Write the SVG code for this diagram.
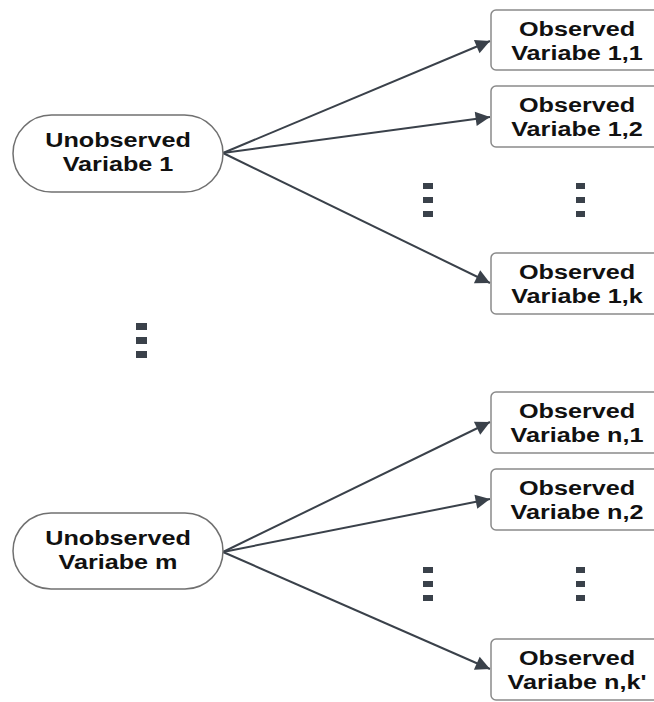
<svg xmlns="http://www.w3.org/2000/svg" width="654" height="702" viewBox="0 0 654 702">
<style>
.pill{fill:#fff;stroke:#707070;stroke-width:1.5}
.box{fill:#fff;stroke:#8a8a8a;stroke-width:1.5}
.t{font-family:"Liberation Sans",Arial,sans-serif;font-weight:bold;font-size:21px;fill:#111;text-anchor:middle}
.e{stroke:#3a414a;stroke-width:2;fill:none;marker-end:url(#ah)}
.dot{fill:#3a414a}
</style>
<defs>
<marker id="ah" viewBox="0 0 10 10" refX="10" refY="5" markerWidth="8" markerHeight="8" markerUnits="userSpaceOnUse" orient="auto" overflow="visible">
<path d="M0,0 L10,5 L0,10 z" fill="#3a414a" transform="scale(1.8)" transform-origin="10 5"/>
</marker>
</defs>
<rect width="654" height="702" fill="#fff"/>
<g id="connectors">
<line class="e" x1="223" y1="153" x2="490" y2="41"/>
<line class="e" x1="223" y1="153" x2="490" y2="117"/>
<line class="e" x1="223" y1="153" x2="490" y2="283"/>
<line class="e" x1="223" y1="552" x2="490" y2="422"/>
<line class="e" x1="223" y1="552" x2="490" y2="499"/>
<line class="e" x1="223" y1="552" x2="490" y2="669"/>
</g>
<g id="u1">
<rect class="pill" x="13" y="115" width="210" height="77" rx="38.5"/>
<text class="t" transform="translate(118,146.5) scale(1.2,1)">Unobserved</text>
<text class="t" transform="translate(118,171) scale(1.2,1)">Variabe 1</text>
</g>
<g id="um">
<rect class="pill" x="13" y="513" width="210" height="76" rx="38"/>
<text class="t" transform="translate(118,545) scale(1.2,1)">Unobserved</text>
<text class="t" transform="translate(118,569) scale(1.2,1)">Variabe m</text>
</g>
<g id="o11">
<rect class="box" x="491" y="10" width="180" height="60" rx="5"/>
<text class="t" transform="translate(577,36) scale(1.2,1)">Observed</text>
<text class="t" transform="translate(577,60) scale(1.2,1)">Variabe 1,1</text>
</g>
<g id="o12">
<rect class="box" x="491" y="86" width="180" height="61" rx="5"/>
<text class="t" transform="translate(577,112) scale(1.2,1)">Observed</text>
<text class="t" transform="translate(577,136) scale(1.2,1)">Variabe 1,2</text>
</g>
<g id="o1k">
<rect class="box" x="491" y="253" width="180" height="61" rx="5"/>
<text class="t" transform="translate(577,279) scale(1.2,1)">Observed</text>
<text class="t" transform="translate(577,303) scale(1.2,1)">Variabe 1,k</text>
</g>
<g id="on1">
<rect class="box" x="491" y="392" width="180" height="61" rx="5"/>
<text class="t" transform="translate(577,418) scale(1.2,1)">Observed</text>
<text class="t" transform="translate(577,442) scale(1.2,1)">Variabe n,1</text>
</g>
<g id="on2">
<rect class="box" x="491" y="469" width="180" height="61" rx="5"/>
<text class="t" transform="translate(577,495) scale(1.2,1)">Observed</text>
<text class="t" transform="translate(577,519) scale(1.2,1)">Variabe n,2</text>
</g>
<g id="onk">
<rect class="box" x="491" y="639" width="180" height="61" rx="5"/>
<text class="t" transform="translate(577,665) scale(1.2,1)">Observed</text>
<text class="t" transform="translate(577,689) scale(1.2,1)">Variabe n,k'</text>
</g>
<g id="dots">
<rect class="dot" x="423" y="183" width="10" height="6"/>
<rect class="dot" x="423" y="197" width="10" height="6"/>
<rect class="dot" x="423" y="211" width="10" height="6"/>
<rect class="dot" x="576" y="183" width="9" height="6"/>
<rect class="dot" x="576" y="197" width="9" height="6"/>
<rect class="dot" x="576" y="211" width="9" height="6"/>
<rect class="dot" x="136" y="323" width="11" height="7"/>
<rect class="dot" x="136" y="337" width="11" height="7"/>
<rect class="dot" x="136" y="351" width="11" height="7"/>
<rect class="dot" x="423" y="567" width="10" height="6"/>
<rect class="dot" x="423" y="581" width="10" height="6"/>
<rect class="dot" x="423" y="595" width="10" height="6"/>
<rect class="dot" x="576" y="567" width="9" height="6"/>
<rect class="dot" x="576" y="581" width="9" height="6"/>
<rect class="dot" x="576" y="595" width="9" height="6"/>
</g>
</svg>
